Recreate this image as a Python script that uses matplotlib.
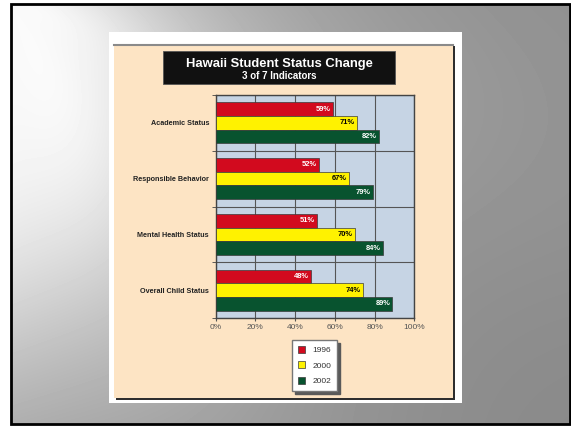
import numpy as np
import matplotlib.pyplot as plt
from matplotlib.patches import Rectangle

plt.rcParams['font.family'] = ['Liberation Sans', 'DejaVu Sans']

# data
categories = ["Academic Status", "Responsible Behavior", "Mental Health Status", "Overall Child Status"]
years = ["1996", "2000", "2002"]
vals_1996 = [59, 52, 51, 48]
vals_2000 = [71, 67, 70, 74]
vals_2002 = [82, 79, 84, 89]
x_ticks = [0, 20, 40, 60, 80, 100]
x_labels = ["0%", "20%", "40%", "60%", "80%", "100%"]

colors = ["#D20A1E", "#FFF200", "#08532F"]
text_colors = ["white", "black", "white"]

W, H = 571, 426
fig = plt.figure(figsize=(W / 100, H / 100), dpi=100)
fig.patch.set_facecolor("white")


def box(x0, y0, x1, y1):
    # pixel box (top-left origin) -> figure fraction
    return [x0 / W, 1 - y1 / H, (x1 - x0) / W, (y1 - y0) / H]


# slide background: light from the top-left corner fading to grey
bg = fig.add_axes([0, 0, 1, 1], zorder=0)
bg.set_axis_off()
px, py = np.meshgrid(np.arange(11, 570), np.arange(4, 424))
r = np.hypot(px - 11, py - 4)
theta = np.arctan2(py - 4, px - 11) / (np.pi / 2)
L = 170 + 200 * theta
p = 2 + 2 * theta
shade = 0.53 + 0.45 / (1 + (r / L) ** p)
shade += 0.012 * np.sin(theta * 11) * np.clip(r / 250, 0, 1)
shade = np.clip(shade, 0, 1)
bg.imshow(shade, cmap="gray", vmin=0, vmax=1, extent=[11, 570, 424, 4], aspect="auto")
bg.set_xlim(0, W)
bg.set_ylim(H, 0)
bg.add_patch(Rectangle((11, 4), 559, 420, fill=False, ec="black", lw=2))

# white panel, peach card with shadow
bg.add_patch(Rectangle((109, 32), 353, 371, fc="white", ec="none"))
bg.add_patch(Rectangle((116, 46), 339, 354, fc="#2E2E2E", ec="none"))
bg.add_patch(Rectangle((114, 44), 339, 354, fc="#FDE4C4", ec="none"))
bg.plot([114, 453], [44.5, 44.5], color="#8A8A8A", lw=1.5)

# title box
bg.add_patch(Rectangle((163, 51), 232, 33, fc="#111111", ec="#555555", lw=0.6))
bg.text(279, 63.5, "Hawaii Student Status Change", ha="center", va="center",
        color="white", fontsize=9.4, fontweight="bold")
bg.text(279, 76, "3 of 7 Indicators", ha="center", va="center",
        color="white", fontsize=7, fontweight="bold")

# main chart
ax = fig.add_axes(box(215.7, 95, 414.3, 318), zorder=2)
ax.set_facecolor("#C6D4E4")
y = np.arange(len(categories))
h = 0.245
series = [vals_1996, vals_2000, vals_2002]
containers = []
for i, vals in enumerate(series):
    bars = ax.barh(y + (i - 1) * h, vals, height=h, color=colors[i],
                   edgecolor="#3A3A3A", linewidth=0.5, zorder=3, label=years[i])
    containers.append(bars)
    for yy_, v in zip(y + (i - 1) * h, vals):
        ax.annotate(f"{v}%", xy=(v, yy_), xytext=(-1.2, 0), textcoords="offset points",
                    ha="right", va="center", fontsize=5.4, fontweight="bold",
                    color=text_colors[i], zorder=4)

ax.set_xlim(0, 100)
ax.set_ylim(len(categories) - 0.5, -0.5)
ax.set_xticks(x_ticks)
ax.set_xticklabels(x_labels, fontsize=6, color="#555555")
ax.set_yticks(y)
ax.set_yticklabels(categories, fontsize=5.2, fontweight="bold", color="#222222")
ax.set_yticks(np.arange(len(categories) + 1) - 0.5, minor=True)
ax.tick_params(axis="y", which="major", length=0, pad=4.8)
ax.tick_params(axis="y", which="minor", length=3, direction="out", color="#444444")
ax.tick_params(axis="x", length=2.2, pad=2.2, direction="out", color="#555555")
ax.grid(axis="x", color="#555555", lw=0.8, zorder=1)
ax.grid(axis="y", which="minor", color="#555555", lw=0.8, zorder=1)
ax.set_axisbelow(True)
for s in ax.spines.values():
    s.set_color("#444444")
    s.set_linewidth(1)

leg = ax.legend(handles=containers, loc="upper center",
                bbox_to_anchor=(314.5 / W, 1 - 340 / H), bbox_transform=fig.transFigure,
                borderaxespad=0, fontsize=6, handlelength=0.9, handleheight=0.9,
                handletextpad=0.9, labelspacing=0.85, borderpad=0.7, fancybox=False,
                framealpha=1, edgecolor="#777777", shadow={"color": "0.35", "alpha": 1})
for t in leg.get_texts():
    t.set_color("#333333")

fig.savefig("out.png", dpi=100)
